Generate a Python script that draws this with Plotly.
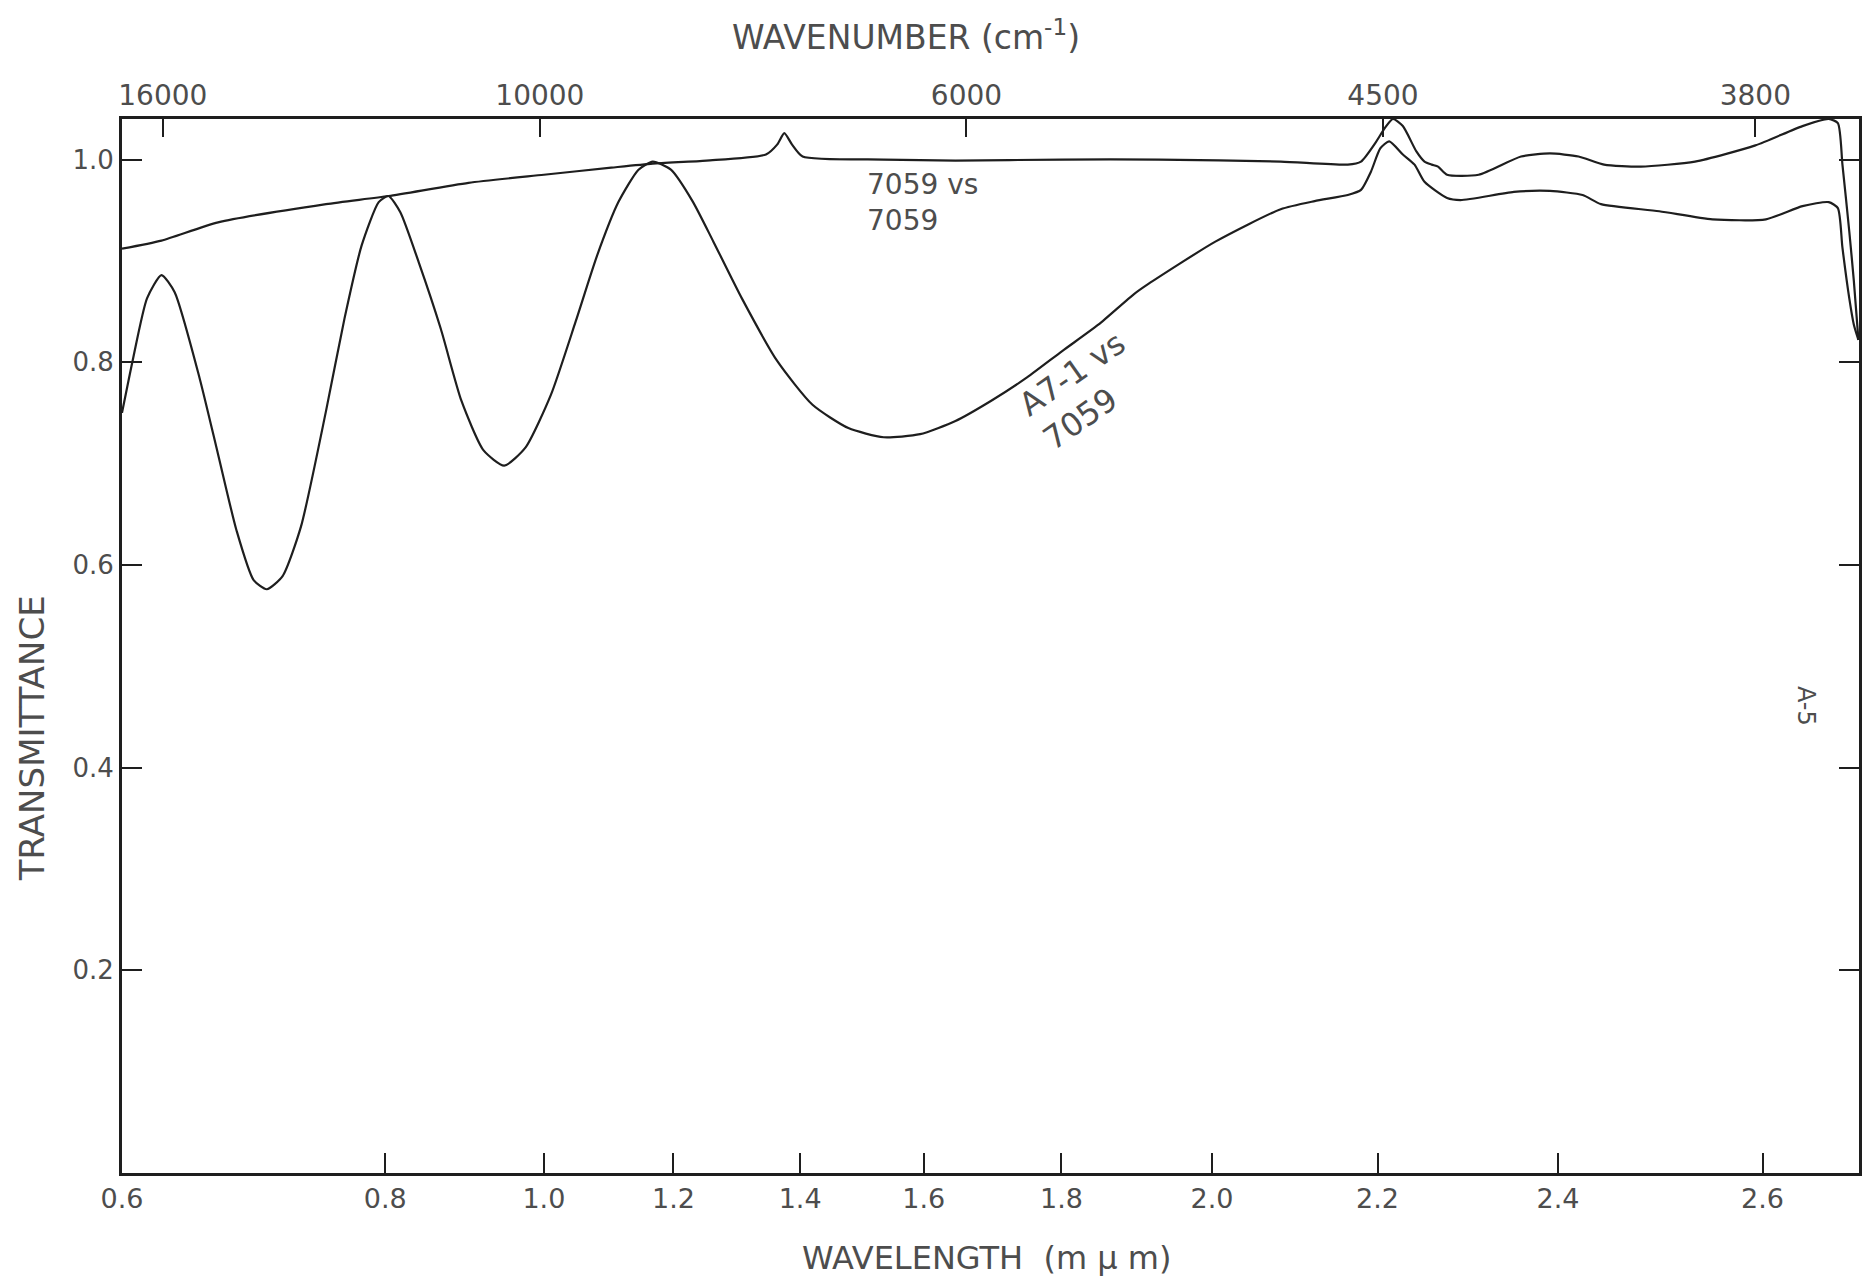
import numpy as np
import plotly.graph_objects as go

# ---------------- data ----------------
# chart graduation of the wavelength scale (non-linear spectrometer chart paper)
SCALE_WL = [0.6, 0.8, 1.0, 1.2, 1.4, 1.6, 1.8, 2.0, 2.2, 2.4, 2.6, 2.8]
SCALE_POS = [0, 264, 423, 553, 680, 804, 942, 1093, 1259, 1440, 1645, 1874]

X_TICK_WL = [0.6, 0.8, 1.0, 1.2, 1.4, 1.6, 1.8, 2.0, 2.2, 2.4, 2.6]
X_TICK_LABELS = ["0.6", "0.8", "1.0", "1.2", "1.4", "1.6", "1.8", "2.0", "2.2", "2.4", "2.6"]

Y_TICKS = [0.2, 0.4, 0.6, 0.8, 1.0]
Y_TICK_LABELS = ["0.2", "0.4", "0.6", "0.8", "1.0"]

TOP_TICK_LABELS = ["16000", "10000", "6000", "4500", "3800"]
TOP_TICK_WL = [0.631, 0.995, 1.662, 2.206, 2.593]

# 7059 vs 7059
REF_WL = [0.600, 0.630, 0.673, 0.755, 0.804, 0.905, 1.000, 1.104, 1.168, 1.252,
          1.346, 1.364, 1.375, 1.387, 1.404, 1.535, 1.646, 1.801, 1.929, 2.083,
          2.164, 2.180, 2.197, 2.208, 2.217, 2.228, 2.243, 2.252, 2.260, 2.267,
          2.277, 2.312, 2.359, 2.391, 2.420, 2.445, 2.481, 2.534, 2.593, 2.635,
          2.658, 2.666, 2.670, 2.676, 2.680, 2.684]
REF_T = [0.912, 0.920, 0.938, 0.956, 0.964, 0.977, 0.985, 0.992, 0.996, 0.999,
         1.005, 1.015, 1.026, 1.015, 1.003, 1.000, 0.999, 1.000, 1.000, 0.998,
         0.995, 0.998, 1.016, 1.031, 1.040, 1.033, 1.008, 0.998, 0.995, 0.993,
         0.985, 0.985, 1.003, 1.006, 1.003, 0.995, 0.993, 0.998, 1.014, 1.033,
         1.040, 1.036, 0.995, 0.929, 0.880, 0.822]

# A7-1 vs 7059
SAMPLE_WL = [0.600, 0.608, 0.619, 0.630, 0.640, 0.659, 0.673, 0.687, 0.700, 0.710,
             0.722, 0.736, 0.755, 0.769, 0.782, 0.795, 0.804, 0.819, 0.842, 0.870,
             0.896, 0.924, 0.950, 0.977, 1.011, 1.049, 1.082, 1.115, 1.146, 1.168,
             1.196, 1.230, 1.263, 1.308, 1.364, 1.420, 1.478, 1.535, 1.594, 1.646,
             1.698, 1.750, 1.801, 1.849, 1.896, 1.915, 2.004, 2.083, 2.124, 2.164,
             2.180, 2.192, 2.203, 2.213, 2.228, 2.241, 2.252, 2.277, 2.292, 2.351,
             2.391, 2.424, 2.442, 2.499, 2.551, 2.603, 2.635, 2.658, 2.666, 2.670,
             2.676, 2.680, 2.684]
SAMPLE_T = [0.750, 0.801, 0.863, 0.886, 0.869, 0.784, 0.709, 0.634, 0.585, 0.576,
            0.589, 0.638, 0.752, 0.843, 0.915, 0.958, 0.964, 0.948, 0.899, 0.833,
            0.762, 0.713, 0.698, 0.716, 0.768, 0.840, 0.905, 0.958, 0.990, 0.998,
            0.990, 0.959, 0.919, 0.863, 0.801, 0.758, 0.735, 0.726, 0.729, 0.742,
            0.762, 0.785, 0.811, 0.837, 0.867, 0.877, 0.919, 0.951, 0.959, 0.965,
            0.970, 0.988, 1.011, 1.018, 1.005, 0.995, 0.978, 0.962, 0.960, 0.968,
            0.969, 0.965, 0.956, 0.949, 0.941, 0.941, 0.954, 0.958, 0.952, 0.913,
            0.863, 0.837, 0.822]

# ---------------- helpers ----------------
def to_chart(wl):
    return np.interp(np.asarray(wl, dtype=float), SCALE_WL, SCALE_POS)

W, H = 1867, 1283
ML, MR, MT, MB = 122, 5, 119, 110
X_MAX_WL = 2.6845
X_RANGE = [0, float(to_chart(X_MAX_WL))]
Y_RANGE = [0, 1.04]

def px_x(px):
    return (px - ML) / (W - ML - MR)

def px_y(py):
    return (H - MB - py) / (H - MB - MT)

INK = "#1e1e1e"
TXT = "#4d4d4d"
FONT = "DejaVu Sans"

fig = go.Figure()

fig.add_trace(go.Scatter(
    x=to_chart(REF_WL), y=REF_T, mode="lines", name="7059 vs 7059",
    line=dict(color=INK, width=2.2, shape="spline", smoothing=0.6),
    cliponaxis=False, hoverinfo="skip"))
fig.add_trace(go.Scatter(
    x=to_chart(SAMPLE_WL), y=SAMPLE_T, mode="lines", name="A7-1 vs 7059",
    line=dict(color=INK, width=2.2, shape="spline", smoothing=0.6),
    cliponaxis=False, hoverinfo="skip"))
# invisible trace so the top (wavenumber) axis is drawn
fig.add_trace(go.Scatter(x=[None], y=[None], xaxis="x2", yaxis="y",
                         showlegend=False, hoverinfo="skip"))

fig.update_layout(
    width=W, height=H,
    margin=dict(l=ML, r=MR, t=MT, b=MB, pad=0),
    paper_bgcolor="white", plot_bgcolor="white",
    showlegend=False,
    font=dict(family=FONT, color=TXT),
    xaxis=dict(
        range=X_RANGE, showgrid=False, zeroline=False,
        tickmode="array", tickvals=to_chart(X_TICK_WL), ticktext=X_TICK_LABELS,
        ticks="inside", ticklen=20, tickwidth=2, tickcolor=INK,
        showline=True, linewidth=3, linecolor=INK,
        tickfont=dict(size=27, color=TXT, family=FONT),
    ),
    xaxis2=dict(
        range=X_RANGE, overlaying="x", side="top", anchor="y",
        showgrid=False, zeroline=False,
        tickmode="array", tickvals=to_chart(TOP_TICK_WL), ticktext=TOP_TICK_LABELS,
        ticks="inside", ticklen=18, tickwidth=2, tickcolor=INK,
        showline=True, linewidth=3, linecolor=INK,
        tickfont=dict(size=28, color=TXT, family=FONT),
    ),
    yaxis=dict(
        range=Y_RANGE, showgrid=False, zeroline=False,
        tickmode="array", tickvals=Y_TICKS, ticktext=Y_TICK_LABELS,
        ticks="inside", ticklen=20, tickwidth=2, tickcolor=INK,
        showline=True, linewidth=3, linecolor=INK, mirror="ticks",
        tickfont=dict(size=26, color=TXT, family=FONT),
    ),
)

annotations = [
    dict(text="WAVENUMBER (cm<sup>-1</sup>)", xref="paper", yref="paper",
         x=px_x(907), y=px_y(36), xanchor="center", yanchor="middle",
         font=dict(size=33, color=TXT)),
    dict(text="WAVELENGTH  (m μ m)", xref="paper", yref="paper",
         x=px_x(988), y=px_y(1258), xanchor="center", yanchor="middle",
         font=dict(size=32, color=TXT)),
    dict(text="TRANSMITTANCE", xref="paper", yref="paper",
         x=px_x(32), y=px_y(738), xanchor="center", yanchor="middle",
         textangle=-90, font=dict(size=34, color=TXT)),
    dict(text="7059 vs<br>7059", xref="x", yref="y",
         x=float(to_chart(1.505)), y=0.958, xanchor="left", yanchor="middle",
         align="left", font=dict(size=28, color=TXT)),
    dict(text="A7-1 vs<br>7059", xref="x", yref="y",
         x=float(to_chart(1.83)), y=0.772, xanchor="center", yanchor="middle",
         align="left", textangle=-35, font=dict(size=32, color=TXT)),
    dict(text="A-5", xref="x", yref="y",
         x=float(to_chart(2.638)), y=0.461, xanchor="center", yanchor="middle",
         textangle=90, font=dict(size=24, color=TXT)),
]
fig.update_layout(annotations=[dict(showarrow=False, **a) for a in annotations])

fig.write_html(
    "out.html",
    config={"displayModeBar": False},
    post_script="document.body.style.margin='0px';document.body.style.overflow='hidden';",
)
